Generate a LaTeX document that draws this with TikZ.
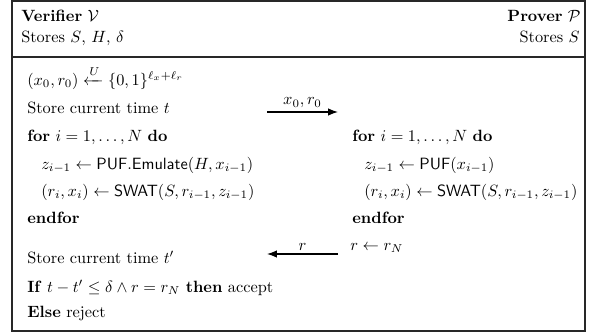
\documentclass[tikz,border=0pt]{standalone}
\usepackage{xcolor}
\usepackage{tikz}
\usepackage{amsmath}
\usetikzlibrary{arrows.meta,positioning,calc}
\definecolor{frameGray} {RGB}{40, 40, 40}

\begin{document}
\begin{tikzpicture}[x=0.613pt,y=-0.613pt,
          row/.style={anchor=base west,inner sep=0pt},
          rrow/.style={anchor=base east,inner sep=0pt},
          msg/.style={line width=0.75pt,-{Latex[length=6pt,width=4.5pt]}},
          lbl/.style={above,inner sep=2pt,font=\normalsize},
        ]
        \useasboundingbox (0,0) rectangle (592,333);
        % Moldura
        \draw[frameGray,line width=0.7pt] (12,1) rectangle (585,331);
        \draw[frameGray,line width=0.7pt] (12,57) -- (585,57);
        % Cabecalho
        \node[row]  (verif)  at (21,21)  {\textbf{Verifier} $\mathcal{V}$};
        \node[row]  (vstore) at (21,42)  {Stores $S$, $H$, $\delta$};
        \node[rrow] (prov)   at (581,21) {\textbf{Prover} $\mathcal{P}$};
        \node[rrow] (pstore) at (580,42) {Stores $S$};
        % Verificador
        \node[row] (init)  at (27,85)  {$(x_0,r_0) \xleftarrow{U} \{0,1\}^{\ell_x+\ell_r}$};
        \node[row] (tini)  at (27,113) {Store current time $t$};
        \node[row] (vfor)  at (27,141) {\textbf{for} $i=1,\ldots,N$ \textbf{do}};
        \node[row] (vemu)  at (41,169) {$z_{i-1} \leftarrow \mathsf{PUF.Emulate}(H,x_{i-1})$};
        \node[row] (vswat) at (41,196) {$(r_i,x_i) \leftarrow \mathsf{SWAT}(S,r_{i-1},z_{i-1})$};
        \node[row] (vend)  at (27,223) {\textbf{endfor}};
        \node[row] (tfim)  at (27,263) {Store current time $t'$};
        \node[row] (chk)   at (27,292) {\textbf{If} $t-t' \leq \delta \wedge r=r_N$ \textbf{then} accept};
        \node[row] (rej)   at (27,317) {\textbf{Else} reject};
        % Provador
        \node[row] (pfor)  at (352,141) {\textbf{for} $i=1,\ldots,N$ \textbf{do}};
        \node[row] (ppuf)  at (364,169) {$z_{i-1} \leftarrow \mathsf{PUF}(x_{i-1})$};
        \node[row] (pswat) at (364,196) {$(r_i,x_i) \leftarrow \mathsf{SWAT}(S,r_{i-1},z_{i-1})$};
        \node[row] (pend)  at (352,223) {\textbf{endfor}};
        \node[row] (resp)  at (350,250) {$r \leftarrow r_N$};
        % Mensagens
        \coordinate (m1a) at (267,112);
        \coordinate (m1b) at (338,112);
        \coordinate (m2a) at (338,254);
        \coordinate (m2b) at (267,254);
        \draw[msg] (m1a) -- node[lbl]{$x_0,r_0$} (m1b);
        \draw[msg] (m2a) -- node[lbl]{$r$} (m2b);
      \end{tikzpicture}
\end{document}
